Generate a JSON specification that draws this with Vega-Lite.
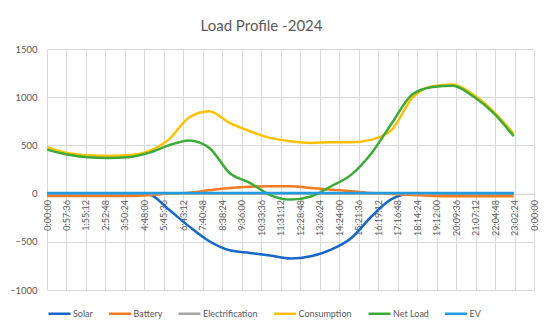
{
  "$schema": "https://vega.github.io/schema/vega-lite/v6.json",
  "width": 487,
  "height": 241,
  "autosize": {"type": "none"},
  "padding": {"left": 47, "top": 49, "right": 16, "bottom": 46},
  "background": "white",
  "title": {
    "text": "Load Profile -2024",
    "font": "Lato",
    "fontSize": 15,
    "fontWeight": "normal",
    "color": "#595959",
    "anchor": "middle",
    "dx": -29,
    "offset": 10
  },
  "config": {
    "view": {"stroke": null},
    "font": "Lato"
  },
  "data": {
    "values": [
      {"hour": 0, "Solar": 0, "Battery": -25, "Electrification": 0, "Consumption": 482, "Net Load": 456, "EV": 6},
      {"hour": 1, "Solar": 0, "Battery": -25, "Electrification": 0, "Consumption": 422, "Net Load": 405, "EV": 6},
      {"hour": 2, "Solar": 0, "Battery": -26, "Electrification": 0, "Consumption": 398, "Net Load": 377, "EV": 6},
      {"hour": 3, "Solar": 0, "Battery": -26, "Electrification": 0, "Consumption": 392, "Net Load": 370, "EV": 6},
      {"hour": 4, "Solar": 0, "Battery": -25, "Electrification": 0, "Consumption": 398, "Net Load": 377, "EV": 6},
      {"hour": 5, "Solar": -7, "Battery": -18, "Electrification": 0, "Consumption": 440, "Net Load": 422, "EV": 6},
      {"hour": 6, "Solar": -166, "Battery": 0, "Electrification": 0, "Consumption": 560, "Net Load": 500, "EV": 6},
      {"hour": 7, "Solar": -340, "Battery": 10, "Electrification": 0, "Consumption": 790, "Net Load": 552, "EV": 6},
      {"hour": 8, "Solar": -494, "Battery": 35, "Electrification": 0, "Consumption": 855, "Net Load": 474, "EV": 6},
      {"hour": 9, "Solar": -588, "Battery": 59, "Electrification": 0, "Consumption": 733, "Net Load": 214, "EV": 6},
      {"hour": 10, "Solar": -615, "Battery": 72, "Electrification": 0, "Consumption": 647, "Net Load": 111, "EV": 6},
      {"hour": 11, "Solar": -643, "Battery": 76, "Electrification": 0, "Consumption": 578, "Net Load": -15, "EV": 6},
      {"hour": 12, "Solar": -674, "Battery": 76, "Electrification": 0, "Consumption": 543, "Net Load": -62, "EV": 6},
      {"hour": 13, "Solar": -650, "Battery": 59, "Electrification": 0, "Consumption": 526, "Net Load": -30, "EV": 6},
      {"hour": 14, "Solar": -581, "Battery": 41, "Electrification": 0, "Consumption": 532, "Net Load": 76, "EV": 6},
      {"hour": 15, "Solar": -460, "Battery": 24, "Electrification": 0, "Consumption": 532, "Net Load": 197, "EV": 6},
      {"hour": 16, "Solar": -235, "Battery": 5, "Electrification": 0, "Consumption": 560, "Net Load": 422, "EV": 6},
      {"hour": 17, "Solar": -55, "Battery": -5, "Electrification": 0, "Consumption": 664, "Net Load": 733, "EV": 6},
      {"hour": 18, "Solar": 0, "Battery": -14, "Electrification": 0, "Consumption": 993, "Net Load": 1027, "EV": 6},
      {"hour": 19, "Solar": 0, "Battery": -24, "Electrification": 0, "Consumption": 1113, "Net Load": 1105, "EV": 6},
      {"hour": 20, "Solar": 0, "Battery": -28, "Electrification": 0, "Consumption": 1131, "Net Load": 1120, "EV": 6},
      {"hour": 21, "Solar": 0, "Battery": -28, "Electrification": 0, "Consumption": 1027, "Net Load": 1010, "EV": 6},
      {"hour": 22, "Solar": 0, "Battery": -28, "Electrification": 0, "Consumption": 854, "Net Load": 837, "EV": 6},
      {"hour": 23, "Solar": 0, "Battery": -28, "Electrification": 0, "Consumption": 619, "Net Load": 595, "EV": 6}
    ]
  },
  "transform": [
    {"fold": ["Solar", "Battery", "Electrification", "Consumption", "Net Load", "EV"], "as": ["series", "value"]}
  ],
  "mark": {"type": "line", "interpolate": "monotone", "strokeWidth": 2.5},
  "encoding": {
    "x": {
      "field": "hour",
      "type": "quantitative",
      "scale": {"domain": [0, 24], "nice": false, "zero": false},
      "axis": {
        "title": null,
        "values": [0, 0.96, 1.92, 2.88, 3.84, 4.8, 5.76, 6.72, 7.68, 8.64, 9.6, 10.56, 11.52, 12.48, 13.44, 14.4, 15.36, 16.32, 17.28, 18.24, 19.2, 20.16, 21.12, 22.08, 23.04, 24],
        "labelExpr": "floor(round(datum.value*3600)/3600) % 24 + ':' + pad('' + floor((round(datum.value*3600) % 3600)/60), 2, '0', 'left') + ':' + pad('' + (round(datum.value*3600) % 60), 2, '0', 'left')",
        "labelAngle": -90,
        "labelFontSize": 9,
        "labelColor": "#595959",
        "labelPadding": 6,
        "labelOverlap": false,
        "labelFlush": false,
        "offset": -96.4,
        "ticks": false,
        "domain": true,
        "domainColor": "#d9d9d9",
        "domainWidth": 1,
        "grid": true,
        "gridColor": "#d9d9d9",
        "gridWidth": 1
      }
    },
    "y": {
      "field": "value",
      "type": "quantitative",
      "scale": {"domain": [-1000, 1500], "nice": false},
      "axis": {
        "title": null,
        "format": "d",
        "values": [-1000, -500, 0, 500, 1000, 1500],
        "labelFontSize": 9.5,
        "labelColor": "#595959",
        "labelPadding": 10,
        "ticks": false,
        "domain": false,
        "grid": true,
        "gridColor": "#d9d9d9",
        "gridWidth": 1
      }
    },
    "color": {
      "field": "series",
      "type": "nominal",
      "sort": ["Solar", "Battery", "Electrification", "Consumption", "Net Load", "EV"],
      "scale": {
        "domain": ["Solar", "Battery", "Electrification", "Consumption", "Net Load", "EV"],
        "range": ["#1867c4", "#f47b20", "#a5a5a5", "#ffc000", "#3caa36", "#1f9be0"]
      },
      "legend": {
        "title": null,
        "orient": "none",
        "direction": "horizontal",
        "legendX": 0,
        "legendY": 252,
        "symbolType": "stroke",
        "symbolSize": 484,
        "symbolStrokeWidth": 2.5,
        "labelFontSize": 9,
        "labelColor": "#595959",
        "labelOffset": 1,
        "columnPadding": 10.5
      }
    }
  }
}
